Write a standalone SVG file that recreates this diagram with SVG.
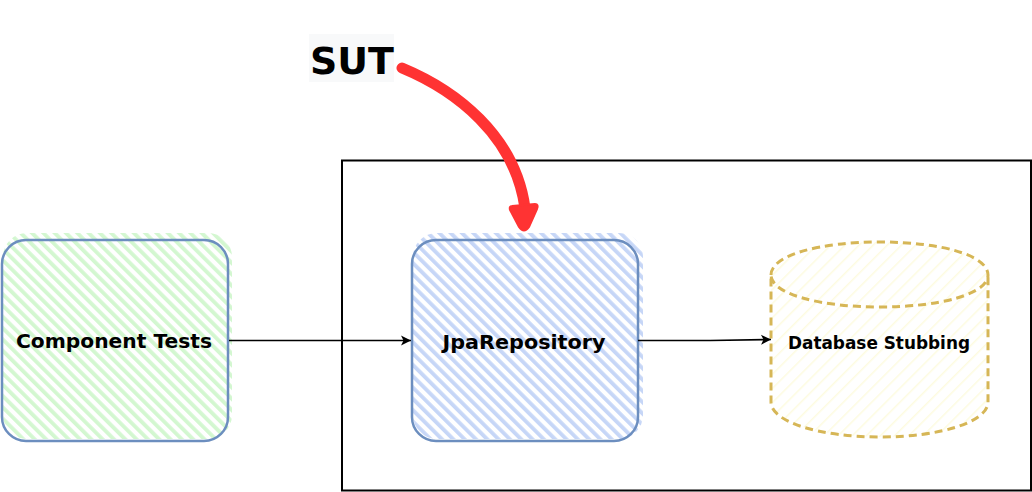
<svg xmlns="http://www.w3.org/2000/svg" width="1032" height="492" viewBox="0 0 1032 492">
<style>
text{font-family:"DejaVu Sans","Liberation Sans",sans-serif;font-weight:700;fill:#000;text-anchor:middle}
.box{fill:none;stroke:#6c8ebf;stroke-width:2.5}
.db{fill:none;stroke:#d6b656;stroke-width:3;stroke-dasharray:8 5}
.conn{fill:none;stroke:#000;stroke-width:1.6}
</style>
<defs>
<pattern id="hg" width="8" height="8" patternUnits="userSpaceOnUse" patternTransform="rotate(-45)"><rect width="3.8" height="8" fill="#d3f7d0"/></pattern>
<pattern id="hb" width="8" height="8" patternUnits="userSpaceOnUse" patternTransform="rotate(-45)"><rect width="3.8" height="8" fill="#c6d6f7"/></pattern>
<pattern id="hy" width="10" height="10" patternUnits="userSpaceOnUse" patternTransform="rotate(45)"><rect width="1.5" height="10" fill="#fdfbe0"/></pattern>
<marker id="arr" markerUnits="userSpaceOnUse" markerWidth="12" markerHeight="12" refX="11" refY="6" orient="auto"><path d="M1 1 L11 6 L1 11 L3.5 6Z" fill="#000"/></marker>
</defs>
<rect id="boundary" x="342" y="160.500" width="689" height="330" fill="none" stroke="#000" stroke-width="2"/>
<g id="component-tests">
<rect x="3" y="233" width="229" height="206" rx="24" fill="url(#hg)"/>
<rect class="box" x="2" y="240" width="226" height="201" rx="24"/>
<text x="114" y="348" font-size="20" textLength="196" lengthAdjust="spacingAndGlyphs">Component Tests</text>
</g>
<g id="jpa-repository">
<rect x="413" y="233" width="230" height="206" rx="24" fill="url(#hb)"/>
<rect class="box" x="412" y="240" width="226" height="201" rx="24"/>
<text x="524" y="349" font-size="20" textLength="163" lengthAdjust="spacingAndGlyphs">JpaRepository</text>
</g>
<g id="database-stubbing">
<path d="M771 275V402C771 422 820 437 880 437S988 422 988 402V275C988 255 940 242 880 242S771 255 771 275Z" fill="url(#hy)"/>
<path class="db" d="M771 275C771 255 820 242 880 242S988 255 988 275C988 294 940 307 880 307S771 294 771 275V402C771 422 820 437 880 437S988 422 988 402V275"/>
<text x="879" y="349" font-size="17" textLength="182" lengthAdjust="spacingAndGlyphs">Database Stubbing</text>
</g>
<g id="sut">
<rect x="309" y="34" width="85" height="48" fill="#f8f9fa"/>
<text x="352" y="74" font-size="38" textLength="84" lengthAdjust="spacingAndGlyphs">SUT</text>
</g>
<g id="connectors">
<path class="conn" d="M229 340.500H411" marker-end="url(#arr)"/>
<path class="conn" d="M638 340.500H710L771 339.500" marker-end="url(#arr)"/>
<path d="M402 68C455 90 515 135 525 208" fill="none" stroke="#ff3333" stroke-width="11" stroke-linecap="round"/>
<path d="M512 206L535 204Q539 204 537 209L529 227Q524 234 519 227L510 210Q509 206 512 206Z" fill="#ff3333" stroke="#ff3333" stroke-width="2"/>
</g>
</svg>
